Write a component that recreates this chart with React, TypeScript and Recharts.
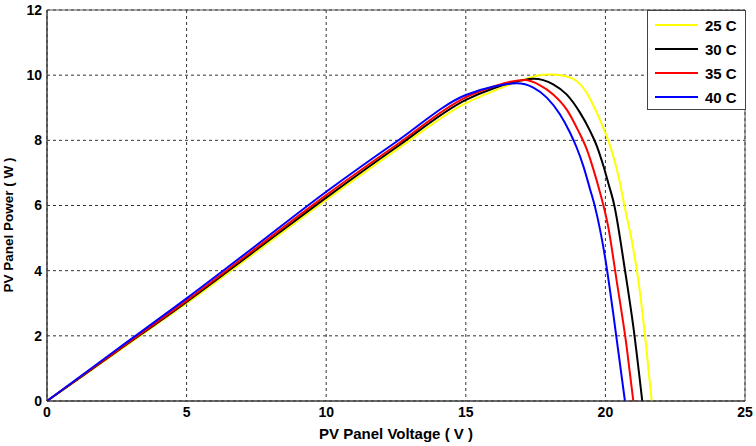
import { Line, LineChart, CartesianGrid, ReferenceArea, XAxis, YAxis } from "recharts";

// PV panel power vs voltage at four cell temperatures
const t25 = [
  { v: 0, p: 0 }, { v: 2.5, p: 1.5 }, { v: 5, p: 3.0 }, { v: 7.5, p: 4.58 }, { v: 10, p: 6.17 },
  { v: 12.5, p: 7.7 }, { v: 15, p: 9.14 }, { v: 16, p: 9.52 }, { v: 17, p: 9.84 }, { v: 17.54, p: 9.98 },
  { v: 18.0, p: 10.02 }, { v: 18.5, p: 9.98 }, { v: 18.97, p: 9.82 }, { v: 19.33, p: 9.46 },
  { v: 19.69, p: 8.85 }, { v: 20.02, p: 8.18 }, { v: 20.28, p: 7.52 }, { v: 20.52, p: 6.7 },
  { v: 20.67, p: 6.04 }, { v: 20.94, p: 4.94 }, { v: 21.18, p: 3.71 }, { v: 21.42, p: 2.0 }, { v: 21.66, p: 0 },
];
const t30 = [
  { v: 0, p: 0 }, { v: 2.5, p: 1.52 }, { v: 5, p: 3.04 }, { v: 7.5, p: 4.64 }, { v: 10, p: 6.24 },
  { v: 12.5, p: 7.78 }, { v: 15, p: 9.24 }, { v: 16, p: 9.6 }, { v: 17, p: 9.84 }, { v: 17.42, p: 9.89 },
  { v: 18.13, p: 9.72 }, { v: 18.61, p: 9.41 }, { v: 19.09, p: 8.85 }, { v: 19.45, p: 8.29 },
  { v: 19.69, p: 7.83 }, { v: 19.93, p: 7.21 }, { v: 20.1, p: 6.7 }, { v: 20.31, p: 6.04 },
  { v: 20.7, p: 4.02 }, { v: 21.0, p: 2.28 }, { v: 21.32, p: 0 },
];
const t35 = [
  { v: 0, p: 0 }, { v: 2.5, p: 1.54 }, { v: 5, p: 3.08 }, { v: 7.5, p: 4.7 }, { v: 10, p: 6.32 },
  { v: 12.5, p: 7.85 }, { v: 15, p: 9.32 }, { v: 16, p: 9.65 }, { v: 16.6, p: 9.8 }, { v: 17.1, p: 9.85 },
  { v: 17.66, p: 9.69 }, { v: 18.13, p: 9.41 }, { v: 18.61, p: 8.95 }, { v: 19.03, p: 8.29 },
  { v: 19.33, p: 7.73 }, { v: 19.57, p: 7.11 }, { v: 19.81, p: 6.39 }, { v: 20.1, p: 5.35 },
  { v: 20.4, p: 3.71 }, { v: 20.76, p: 1.67 }, { v: 21.0, p: 0 },
];
const t40 = [
  { v: 0, p: 0 }, { v: 2.5, p: 1.58 }, { v: 5, p: 3.15 }, { v: 7.5, p: 4.78 }, { v: 10, p: 6.42 },
  { v: 12.5, p: 7.95 }, { v: 15, p: 9.39 }, { v: 16, p: 9.65 }, { v: 16.82, p: 9.75 }, { v: 17.42, p: 9.62 },
  { v: 17.9, p: 9.31 }, { v: 18.37, p: 8.8 }, { v: 18.73, p: 8.24 }, { v: 18.97, p: 7.78 },
  { v: 19.21, p: 7.21 }, { v: 19.45, p: 6.5 }, { v: 19.63, p: 5.95 }, { v: 19.99, p: 4.4 },
  { v: 20.28, p: 2.69 }, { v: 20.7, p: 0 },
];

const series = [
  { name: "25 C", data: t25, color: "#ffff00" },
  { name: "30 C", data: t30, color: "#000000" },
  { name: "35 C", data: t35, color: "#ff0000" },
  { name: "40 C", data: t40, color: "#0000ff" },
];

const xTicks = [0, 5, 10, 15, 20, 25];
const yTicks = [0, 2, 4, 6, 8, 10, 12];

const font = "'Liberation Sans', Arial, sans-serif";
const tickStyle = { fontSize: 14, fontWeight: 700, fill: "#000", fontFamily: font };

function LegendBox() {
  return (
    <div
      style={{
        position: "absolute",
        top: 10,
        left: 647,
        width: 99,
        height: 100,
        background: "#fff",
        border: "1px solid #444",
        fontFamily: font,
        fontWeight: 700,
        fontSize: 15,
        paddingTop: 2,
        boxSizing: "border-box",
      }}
    >
      {series.map((s) => (
        <div key={s.name} style={{ display: "flex", alignItems: "center", height: 24 }}>
          <div style={{ width: 43, height: 2, background: s.color, marginLeft: 7, marginRight: 7 }} />
          <span>{s.name}</span>
        </div>
      ))}
    </div>
  );
}

export default function App() {
  return (
    <div style={{ position: "absolute", left: 0, top: 0, width: 756, height: 446, background: "#fff" }}>
      <LineChart width={756} height={446} margin={{ top: 10, right: 11, left: 0, bottom: 0 }}>
        <CartesianGrid stroke="#333" strokeDasharray="3 3" />
        <XAxis
          type="number"
          dataKey="v"
          domain={[0, 25]}
          ticks={xTicks}
          height={45}
          tick={tickStyle}
          tickSize={0}
          tickMargin={6}
          axisLine={{ stroke: "#333" }}
          tickLine={false}
          allowDuplicatedCategory={false}
          label={{
            content: () => (
              <text x={396} y={439} textAnchor="middle" fontFamily={font} fontWeight={700} fontSize={15} fill="#000">
                PV Panel Voltage ( V )
              </text>
            ),
          }}
        />
        <YAxis
          type="number"
          dataKey="p"
          domain={[0, 12]}
          ticks={yTicks}
          width={47}
          tick={tickStyle}
          tickSize={0}
          tickMargin={5}
          axisLine={{ stroke: "#333" }}
          tickLine={false}
          label={{
            content: () => (
              <text
                x={13}
                y={225}
                transform="rotate(-90 13 225)"
                textAnchor="middle"
                fontFamily={font}
                fontWeight={700}
                fontSize={13.5}
                fill="#000"
              >
                PV Panel Power ( W )
              </text>
            ),
          }}
        />
        <ReferenceArea x1={0} x2={25} y1={0} y2={12} fill="none" stroke="#555" strokeWidth={1} />
        {series.map((s) => (
          <Line
            key={s.name}
            name={s.name}
            data={s.data}
            dataKey="p"
            type="monotone"
            stroke={s.color}
            strokeWidth={2}
            dot={false}
            isAnimationActive={false}
          />
        ))}
      </LineChart>
      <LegendBox />
    </div>
  );
}
